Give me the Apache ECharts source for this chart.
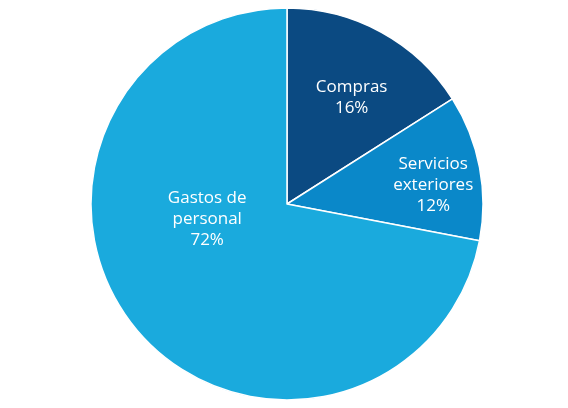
<!DOCTYPE html>
<html><head><meta charset="utf-8">
<script src="https://cdn.jsdelivr.net/npm/echarts@6/dist/echarts.min.js"></script>
<style>html,body{margin:0;background:#fff}#c{width:568px;height:408px}</style>
</head><body><div id="c"></div>
<script>
const categories = ["Compras", "Servicios\nexteriores", "Gastos de\npersonal"];
const values = [16, 12, 72];
const colors = ["#0b4a82", "#0a88c9", "#1aaadd"];
const offsets = [[16, -18], [47, 0], [-2, -49]];
const chart = echarts.init(document.getElementById('c'));
chart.setOption({
  animation: false,
  series: [{
    type: 'pie',
    center: [287, 204],
    radius: 196,
    startAngle: 90,
    clockwise: true,
    itemStyle: { borderColor: '#fff', borderWidth: 1.5 },
    label: {
      position: 'inside', color: '#fff', fontSize: 17, lineHeight: 21,
      fontFamily: 'Open Sans', formatter: p => p.name + '\n' + p.value + '%'
    },
    data: categories.map((n, i) => ({
      name: n, value: values[i], itemStyle: { color: colors[i] },
      label: { offset: offsets[i] }
    }))
  }]
});
</script></body></html>
